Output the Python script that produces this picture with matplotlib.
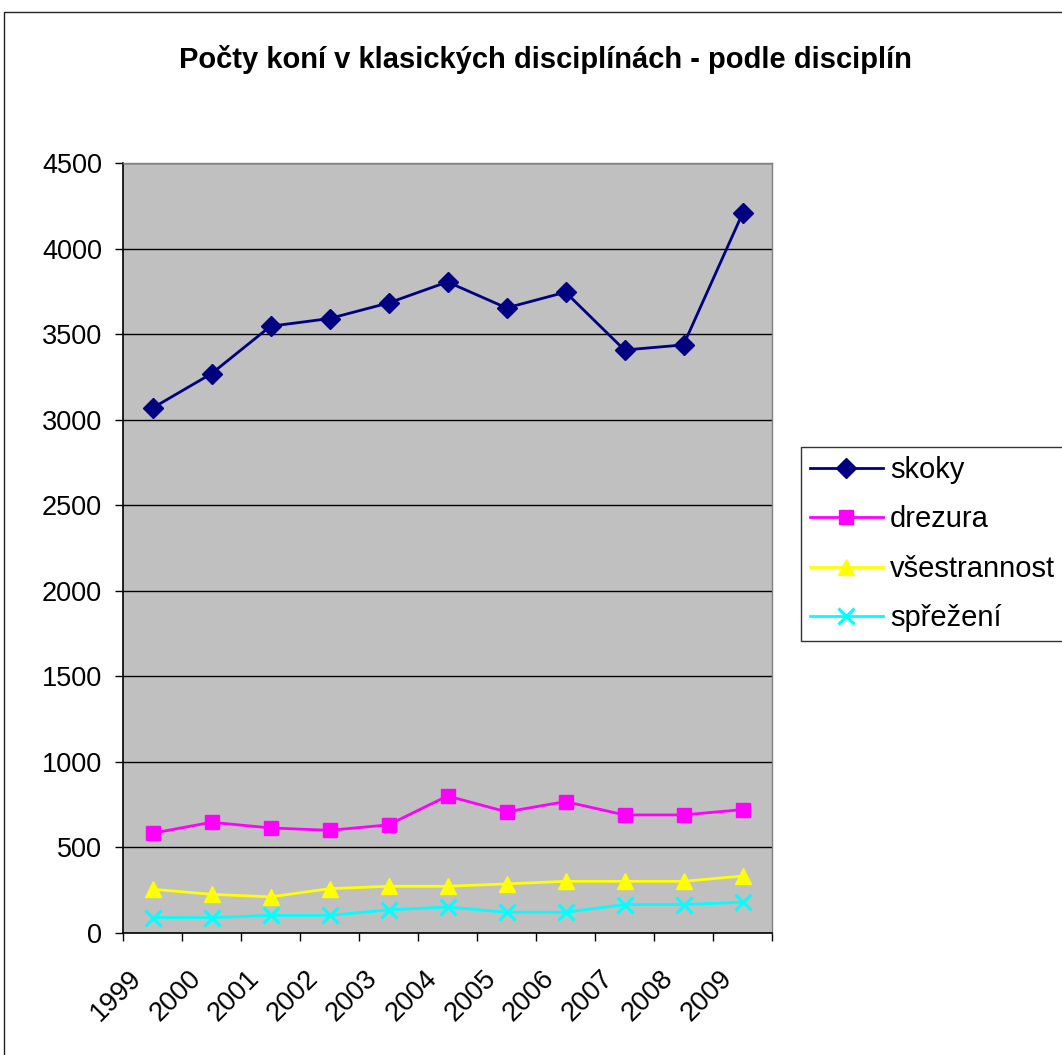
import matplotlib
matplotlib.use("Agg")
import matplotlib.pyplot as plt
from matplotlib.patches import Rectangle
import numpy as np

years = ["1999", "2000", "2001", "2002", "2003", "2004", "2005", "2006", "2007", "2008", "2009"]
skoky = [3068, 3269, 3546, 3591, 3682, 3805, 3653, 3745, 3407, 3437, 4205]
drezura = [583, 647, 614, 600, 632, 801, 708, 768, 690, 690, 721]
vsestrannost = [256, 226, 211, 259, 273, 273, 287, 302, 302, 302, 333]
sprezeni = [90, 90, 103, 103, 135, 152, 121, 121, 166, 166, 180]
series_names = ["skoky", "drezura", "všestrannost", "spřežení"]
title = "Počty koní v klasických disciplínách - podle disciplín"

plt.rcParams['font.family'] = ['Liberation Sans', 'DejaVu Sans']

W, H = 1062, 1055
fig = plt.figure(figsize=(W / 100, H / 100), dpi=100)
fig.patch.set_facecolor("white")

# outer chart border
fig.add_artist(Rectangle((4 / W, -0.1), 1.2, 1 - 12 / H + 0.1, transform=fig.transFigure,
                         fill=False, edgecolor="#222222", linewidth=1.0, clip_on=False))

L, R, T, B = 123, 772, 163, 933
ax = fig.add_axes([L / W, 1 - B / H, (R - L) / W, (B - T) / H])
ax.set_facecolor("#C0C0C0")

x = np.arange(len(years))
ax.plot(x, skoky, color="#000080", lw=2.0, marker="D", ms=10.5, label=series_names[0])
ax.plot(x, drezura, color="#FF00FF", lw=2.0, marker="s", ms=10, label=series_names[1])
ax.plot(x, vsestrannost, color="#FFFF00", lw=2.0, marker="^", ms=12, label=series_names[2])
ax.plot(x, sprezeni, color="#00FFFF", lw=2.0, marker="x", ms=11, mew=2.2, label=series_names[3])

ax.set_xlim(-0.5, len(years) - 0.5)
ax.set_ylim(0, 4500)
ax.set_yticks(np.arange(0, 4501, 500))
ax.yaxis.grid(True, color="black", lw=1.0)
ax.set_axisbelow(True)

ax.set_xticks(np.arange(-0.5, len(years), 1.0))
ax.set_xticklabels([])
ax.set_xticks(x - 0.25, minor=True)
ax.set_xticklabels(years, minor=True, rotation=45, ha="right", va="center",
                   rotation_mode="anchor", fontsize=19.5)
ax.tick_params(axis="x", which="minor", length=0, pad=30)
ax.tick_params(axis="x", which="major", length=6, width=1, direction="out", color="black")
ax.tick_params(axis="y", length=6, width=1, direction="out", labelsize=19.5, pad=9)

for s in ["top", "right"]:
    ax.spines[s].set_color("#808080")
    ax.spines[s].set_linewidth(1.0)
for s in ["left", "bottom"]:
    ax.spines[s].set_color("black")
    ax.spines[s].set_linewidth(1.2)

fig.text(545 / W, 1 - 59 / H, title, ha="center", va="center", fontsize=21, fontweight="bold")

leg = fig.legend(loc="upper left", bbox_to_anchor=(801 / W, 1 - 447 / H), borderaxespad=0,
                 fontsize=21, frameon=True, fancybox=False, edgecolor="black",
                 handlelength=2.5, handletextpad=0.25, labelspacing=0.74, borderpad=0.3)
leg.get_frame().set_linewidth(1.0)

fig.savefig("out.png", dpi=100)
